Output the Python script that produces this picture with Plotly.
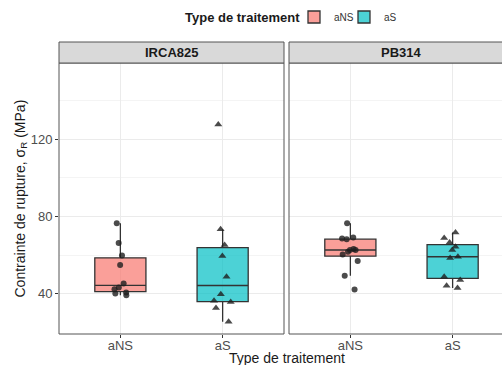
import numpy as np
import plotly.graph_objects as go

# ---------------- data ----------------
panels = ["IRCA825", "PB314"]
treatments = ["aNS", "aS"]
irca_ans = [76.5, 66.3, 59.9, 54.9, 45.4, 43.3, 42.4, 39.3, 40.2, 40.7]
irca_as = [127.6, 73.4, 65.3, 59.6, 48.8, 39.8, 36.4, 35.8, 32.6, 25.5]
pb_ans = [76.5, 68.6, 69.2, 68.2, 62.7, 61.8, 60.3, 63.2, 62.7, 57.0, 49.4, 42.2]
pb_as = [71.8, 68.9, 66.6, 64.4, 62.7, 58.5, 59.2, 48.8, 47.1, 44.2, 43.0]
y_ticks = [40, 80, 120]
y_minor = [60, 100, 140]

panel_data = {"IRCA825": [irca_ans, irca_as], "PB314": [pb_ans, pb_as]}

fills = {"aNS": "rgba(248,118,109,0.7)", "aS": "rgba(0,191,196,0.7)"}
symbols = {"aNS": "circle", "aS": "triangle-up"}
legend_ids = {"aNS": "legend", "aS": "legend2"}

W, H = 502, 365
ml, mr, mt, mb = 59, 0, 63, 31
plot_w = W - ml - mr
plot_h = H - mt - mb
gap = 5
panel_px = 225
d1 = [0, panel_px / plot_w]
d2 = [(panel_px + gap) / plot_w, 1]

fig = go.Figure()


def stats(v):
    a = np.array(v, dtype=float)
    q1, med, q3 = np.percentile(a, [25, 50, 75])
    iqr = q3 - q1
    lo = a[a >= q1 - 1.5 * iqr].min()
    hi = a[a <= q3 + 1.5 * iqr].max()
    return q1, med, q3, lo, hi


for pi, panel in enumerate(panels):
    xa = "x" if pi == 0 else "x2"
    ya = "y" if pi == 0 else "y2"
    for ti, tr in enumerate(treatments):
        vals = panel_data[panel][ti]
        q1, med, q3, lo, hi = stats(vals)
        fig.add_trace(go.Box(
            x=[tr], q1=[q1], median=[med], q3=[q3],
            lowerfence=[lo], upperfence=[hi],
            name=tr, legendgroup=tr, showlegend=(pi == 0),
            legend=legend_ids[tr],
            fillcolor=fills[tr], line=dict(color="#333333", width=1.3),
            whiskerwidth=0, width=0.5, boxpoints=False,
            xaxis=xa, yaxis=ya, hoverinfo="skip"))
        fig.add_trace(go.Box(
            x=[tr] * len(vals), y=vals, name=tr, legendgroup=tr,
            showlegend=False, boxpoints="all", jitter=0.45, pointpos=0,
            width=0.5, fillcolor="rgba(0,0,0,0)",
            line=dict(color="rgba(0,0,0,0)", width=0),
            marker=dict(symbol=symbols[tr], color="rgba(30,30,30,0.8)",
                        size=6 if tr == "aNS" else 7),
            xaxis=xa, yaxis=ya, hoverinfo="skip"))

yrange = [19.2, 159.5]
axis_common = dict(
    type="category", categoryorder="array", categoryarray=treatments,
    showgrid=True, gridcolor="#EBEBEB", gridwidth=1,
    ticks="outside", ticklen=3, tickcolor="#333333", ticklabelstandoff=-4,
    tickfont=dict(size=13, color="#4D4D4D"), showline=False, zeroline=False)
yaxis_common = dict(
    range=yrange, tickvals=y_ticks, showgrid=True, gridcolor="#EBEBEB",
    gridwidth=1, zeroline=False, showline=False,
    minor=dict(tickvals=y_minor, showgrid=True, gridcolor="#F4F4F4",
               gridwidth=0.6, ticks=""))

leg_common = dict(orientation="h", xanchor="left",
                  y=1 + (mt - 17) / plot_h, yanchor="middle",
                  font=dict(size=10, color="#333333"),
                  itemwidth=30, bgcolor="rgba(0,0,0,0)")

fig.update_layout(
    width=W, height=H,
    margin=dict(l=ml, r=mr, t=mt, b=mb),
    paper_bgcolor="white", plot_bgcolor="white",
    font=dict(family="Liberation Sans, Arial, sans-serif", color="#1A1A1A"),
    boxmode="overlay",
    xaxis=dict(domain=d1, range=[-0.6, 1.6], anchor="y", **axis_common),
    xaxis2=dict(domain=d2, range=[-0.6, 1.6 - 12 / 102.4], anchor="y2",
                **axis_common),
    yaxis=dict(domain=[0, 1], anchor="x", ticks="outside", ticklen=3,
               tickcolor="#333333",
               tickfont=dict(size=13, color="#4D4D4D"), **yaxis_common),
    yaxis2=dict(domain=[0, 1], anchor="x2", matches="y",
                showticklabels=False, ticks="", **yaxis_common),
    legend=dict(x=(294 - ml) / plot_w, **leg_common),
    legend2=dict(x=(344 - ml) / plot_w, **leg_common),
    showlegend=True,
)

strip_h = 21 / plot_h
shapes = []
annotations = []
for pi, panel in enumerate(panels):
    xr = "x domain" if pi == 0 else "x2 domain"
    x1 = 1 if pi == 0 else 1.08
    # panel border
    shapes.append(dict(type="rect", xref=xr, yref="paper", x0=0, x1=x1,
                       y0=0, y1=1, line=dict(color="#555555", width=1),
                       fillcolor="rgba(0,0,0,0)", layer="above"))
    # strip
    shapes.append(dict(type="rect", xref=xr, yref="paper", x0=0, x1=x1,
                       y0=1, y1=1 + strip_h, line=dict(color="#555555", width=1),
                       fillcolor="#D9D9D9", layer="above"))
    dom = d1 if pi == 0 else d2
    cx = (dom[0] + dom[1]) / 2 if pi == 0 else dom[0] + (panel_px / plot_w) / 2
    annotations.append(dict(text="<b>%s</b>" % panel, xref="paper", yref="paper",
                            x=cx, y=1 + strip_h / 2, xanchor="center",
                            yanchor="middle", showarrow=False,
                            font=dict(size=13, color="#1A1A1A")))

# legend title
annotations.append(dict(text="<b>Type de traitement</b>", xref="paper",
                        yref="paper", x=(302 - ml) / plot_w,
                        y=1 + (mt - 17) / plot_h, xanchor="right",
                        yanchor="middle", showarrow=False,
                        font=dict(size=13, color="#1A1A1A")))
annotations.append(dict(text="Type de traitement", xref="paper", yref="paper",
                        x=(panel_px + gap / 2) / plot_w,
                        y=-(357.5 - (H - mb)) / plot_h,
                        xanchor="center", yanchor="middle", showarrow=False,
                        font=dict(size=14, color="#1A1A1A")))
annotations.append(dict(text="Contrainte de rupture, σ<sub>R</sub> (MPa)",
                        xref="paper", yref="paper", x=-(ml - 20) / plot_w,
                        y=0.5, xanchor="center", yanchor="middle",
                        textangle=-90, showarrow=False,
                        font=dict(size=14, color="#1A1A1A")))
fig.update_layout(shapes=shapes, annotations=annotations)

fig.write_html("out.html")
